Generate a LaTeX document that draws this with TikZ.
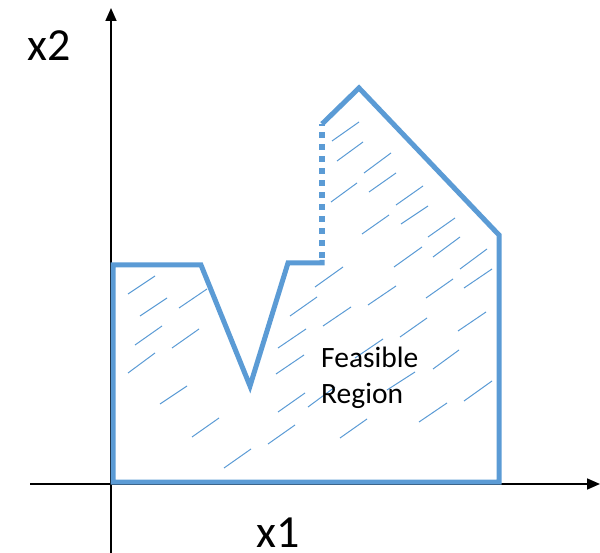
\documentclass[tikz,border=0pt]{standalone}
\usepackage{fontspec}
\setmainfont{Carlito}
\usetikzlibrary{arrows.meta}
\definecolor{regblue}{HTML}{5B9BD5}
\tikzset{
  axis/.style={black, line width=1.6pt, -{Triangle[length=13pt,width=11pt]}},
  border/.style={regblue, line width=5pt, line join=miter},
  dotborder/.style={regblue, line width=6pt, dash pattern=on 6pt off 6pt},
  hatch/.style={regblue, line width=1pt},
  lbl/.style={font=\fontsize{46}{50}\selectfont, inner sep=0pt, anchor=base west},
  txt/.style={font=\fontsize{29.5}{34}\selectfont, inner sep=0pt, anchor=base west}
}
\begin{document}
\begin{tikzpicture}[x=1pt,y=-1pt]
\useasboundingbox (0,0) rectangle (600,553);
% axes
\coordinate (xs) at (30,484);
\coordinate (xe) at (600,484);
\coordinate (ys) at (111,553);
\coordinate (ye) at (111,8);
\draw[axis] (xs) -- (xe);
\draw[axis] (ys) -- (ye);
% region corners
\coordinate (p1) at (322,124);
\coordinate (p2) at (359,88);
\coordinate (p3) at (499,235);
\coordinate (p4) at (499,482);
\coordinate (p5) at (113,482);
\coordinate (p6) at (113,265);
\coordinate (p7) at (201,265);
\coordinate (p8) at (250,386);
\coordinate (p9) at (288,263);
\coordinate (p10) at (322,263);
\draw[border] (p1) -- (p2) -- (p3) -- (p4) -- (p5) -- (p6) -- (p7) -- (p8) -- (p9) -- (p10) -- ++(0,-3);
\draw[dotborder] (322,258) -- (p1);
% hatching
\foreach \a/\b/\c/\d in {
128/294/155/276, 140/316/167/298, 179/308/207/289, 135/345/162/326,
172/348/199/329, 128/373/155/353, 160/404/187/386, 192/437/219/418,
224/468/251/449, 290/316/317/297, 278/348/306/329, 276/374/304/355,
278/412/305/393, 268/444/295/425, 308/407/335/387, 340/438/367/419,
323/326/351/307, 355/358/383/339, 387/390/415/372, 419/422/447/403,
400/337/427/318, 433/369/459/350, 464/401/492/381, 458/331/486/312,
315/287/343/267, 368/305/396/286, 426/298/453/279, 464/288/492/269,
394/267/422/247, 433/257/460/237, 460/269/487/249, 362/234/389/215,
401/224/428/206, 428/237/455/218, 331/202/357/183, 396/205/423/186,
369/192/396/173, 364/173/391/153, 337/161/363/142, 332/141/359/122}
  \draw[hatch] (\a,\b) -- (\c,\d);
% labels
\node[lbl] (lx2) at (27,61) {x2};
\node[lbl] (lx1) at (256,547) {x1};
\node[txt] (fr1) at (321,367) {Feasible};
\node[txt] (fr2) at (321,403) {Region};
\end{tikzpicture}
\end{document}
